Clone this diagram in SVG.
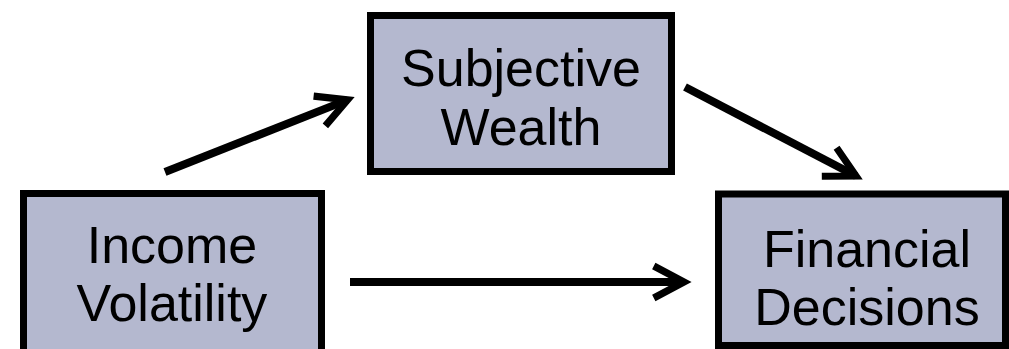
<svg xmlns="http://www.w3.org/2000/svg" width="1009" height="349" viewBox="0 0 1009 349">
  <style>
    .box { fill: #b4b8cf; stroke: #000; stroke-width: 7; }
    .lbl { font-family: "Liberation Sans", Arial, sans-serif; font-size: 52px; fill: #000; text-anchor: middle; }
    .conn { fill: none; stroke: #000; stroke-width: 8; stroke-linecap: butt; }
  </style>
  <defs>
    <marker id="chev" markerUnits="userSpaceOnUse" markerWidth="80" markerHeight="80" refX="0" refY="0" orient="auto" viewBox="-45 -40 90 80" overflow="visible">
      <path d="M-34,-18 L0,0 L-34,18" fill="none" stroke="#000" stroke-width="8" stroke-linejoin="miter" stroke-miterlimit="10"/>
    </marker>
  </defs>
  <g id="connectors">
    <path class="conn" d="M165,172 L347.6,99.9" marker-end="url(#chev)"/>
    <path class="conn" d="M685,87 L856,176" marker-end="url(#chev)"/>
    <path class="conn" d="M350,282 L684,282" marker-end="url(#chev)"/>
  </g>
  <g id="income-volatility">
    <rect class="box" x="23.5" y="193.5" width="298" height="160"/>
    <text class="lbl" x="172" y="263">Income</text>
    <text class="lbl" x="172" y="321">Volatility</text>
  </g>
  <g id="subjective-wealth">
    <rect class="box" x="370.5" y="15.5" width="301" height="156"/>
    <text class="lbl" x="521" y="86">Subjective</text>
    <text class="lbl" x="521" y="145">Wealth</text>
  </g>
  <g id="financial-decisions">
    <rect class="box" x="718.5" y="194" width="287" height="151.5"/>
    <text class="lbl" x="867" y="267">Financial</text>
    <text class="lbl" x="867" y="325">Decisions</text>
  </g>
</svg>
